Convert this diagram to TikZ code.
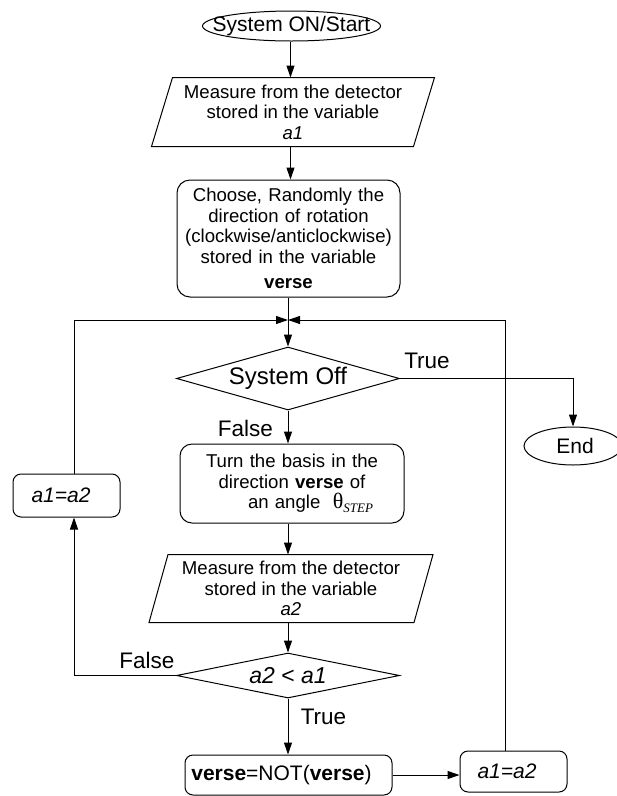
\documentclass[tikz,border=0pt]{standalone}
\usepackage{fontspec}
\setmainfont{Liberation Sans}
\newfontfamily\timesf{Liberation Serif}
\usetikzlibrary{shapes.geometric,arrows.meta}
\begin{document}
\begin{tikzpicture}[x=1pt,y=-1pt,line width=1pt,
  arr/.style={-{Triangle[length=12pt,width=8pt]}},
  btext/.style={font=\fontsize{18.6}{20.5}\selectfont,align=center},
  big/.style={font=\fontsize{21}{24}\selectfont},
  lbl/.style={font=\fontsize{22.5}{26}\selectfont,inner sep=0pt},
  rbox/.style={draw,rectangle,rounded corners=#1,inner sep=0pt},
  plain/.style={rectangle,inner sep=0pt}]
\useasboundingbox (0,0) rectangle (617,796);

\coordinate (j) at (288,320);
\coordinate (lx) at (74,0);
\coordinate (rx) at (505.5,0);
\coordinate (c1) at (290.5,0);
\coordinate (c2) at (288,0);

% start
\node[draw,ellipse,minimum width=178pt,minimum height=30pt,inner sep=0pt,big] (start) at (291.5,26) {\makebox[0pt]{System ON/Start}};

% parallelogram 1
\node[plain,btext,minimum width=261pt,minimum height=68pt] (p1) at (293,112) {Measure from the detector\\ stored in the variable\\ \textit{a1}};
\draw ([xshift=10.5pt]p1.north west) -- ([xshift=10.5pt]p1.north east) -- ([xshift=-10.5pt]p1.south east) -- ([xshift=-10.5pt]p1.south west) -- cycle;

% choose box
\node[rbox=13pt,btext,minimum width=223pt,minimum height=117pt,text width=215pt] (box1) at (288.5,238.5) {Choose, Randomly the\\ direction of rotation\\ (clockwise/anticlockwise)\\ stored in the variable\\[5pt] \textbf{verse}};

% decision 1
\node[draw,diamond,minimum width=223pt,minimum height=63pt,inner sep=0pt,font=\fontsize{24}{28}\selectfont] (d1) at (288,378.5) {\makebox[0pt]{System Off}};

% end
\node[draw,ellipse,minimum width=98pt,minimum height=38pt,inner sep=0pt,big] (end) at (573,446) {\makebox[0pt]{\hspace{4pt}End}};

% turn box
\node[rbox=12pt,btext,minimum width=224pt,minimum height=79pt,text width=215pt] (box2) at (292,483.5) {Turn the basis in the\\ direction \textbf{verse} of\\ \hspace*{37pt}an angle\ \ {\timesf\fontsize{22}{20}\selectfont θ}\raisebox{-4pt}{\timesf\itshape\fontsize{13}{14}\selectfont STEP}};

% parallelogram 2
\node[plain,btext,minimum width=264pt,minimum height=67pt] (p2) at (291,588.5) {Measure from the detector\\ stored in the variable\\ \textit{a2}};
\draw ([xshift=9.5pt]p2.north west) -- ([xshift=9.5pt]p2.north east) -- ([xshift=-9.5pt]p2.south east) -- ([xshift=-9.5pt]p2.south west) -- cycle;

% decision 2
\node[draw,diamond,minimum width=223pt,minimum height=45pt,inner sep=0pt,font=\fontsize{23}{26}\selectfont] (d2) at (288,675.5) {\makebox[0pt]{\textit{a2} < \textit{a1}}};

% NOT box
\node[rbox=8pt,minimum width=207pt,minimum height=40pt,big] (notb) at (288.5,775) {\makebox[0pt]{\textbf{verse}=NOT(\textbf{verse})\hspace{14pt}}};

% a1=a2 boxes
\node[rbox=8pt,minimum width=107pt,minimum height=41pt,big] (ra) at (513.5,771.5) {\makebox[0pt]{\textit{a1=a2}\hspace{13pt}}};
\node[rbox=8pt,minimum width=107pt,minimum height=43pt,big] (la) at (66.5,495.5) {\makebox[0pt]{\textit{a1=a2}\hspace{11pt}}};

% labels
\node[lbl] (t1) at (427,361) {True};
\node[lbl] (f1) at (245.5,428) {False};
\node[lbl] (f2) at (147,660) {False};
\node[lbl] (t2) at (323.5,717) {True};

% connectors
\draw[arr] (start.south -| c1) -- (p1.north -| c1);
\draw[arr] (p1.south -| c1) -- (box1.north -| c1);
\draw[arr] (box1.south -| c2) -- (d1.north);
\draw[arr] (d1.south) -- (d1.south |- box2.north);
\draw[arr] (box2.south -| c2) -- (p2.north -| c2);
\draw[arr] (p2.south -| c2) -- (d2.north);
\draw[arr] (d2.south) -- (d2.south |- notb.north);
\draw[arr] (notb.east) -- (notb.east -| ra.west);
\draw[arr] (d1.east) -| (end.north);
\draw[arr] (d2.west) -| (la.south -| lx);
\draw[arr] (la.north -| lx) |- (j);
\draw[arr] (ra.north -| rx) |- (j);
\end{tikzpicture}
\end{document}
